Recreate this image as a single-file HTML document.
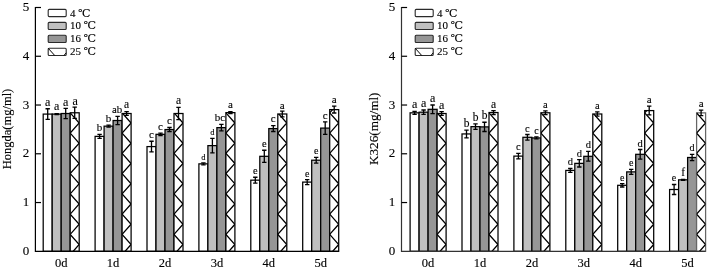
<!DOCTYPE html>
<html lang="en"><head><meta charset="utf-8"><title>Chart</title>
<style>
html,body{margin:0;padding:0;background:#fff;}
body{width:708px;height:271px;overflow:hidden;}
svg{display:block;}
text{font-family:"Liberation Serif","DejaVu Serif",serif;fill:#000;stroke:#000;stroke-width:0.12px;}
.lt{text-anchor:middle;}
.xl{font-size:12.5px;text-anchor:middle;}
.yl{font-size:13px;text-anchor:middle;}
.al{text-anchor:middle;}
.lg{font-size:11px;}
</style></head><body>
<svg width="708" height="271" viewBox="0 0 708 271">
<rect width="708" height="271" fill="#fff"/>
<g class="chart">
<rect x="43.20" y="114.09" width="9.0" height="137.21" fill="#ffffff" stroke="#000" stroke-width="1.25"/>
<path d="M47.70 108.74V119.44M45.50 108.74H49.90M45.50 119.44H49.90" stroke="#000" stroke-width="1.3" fill="none"/>
<text x="47.70" y="105.74" class="lt" font-size="12">a</text>
<rect x="52.20" y="114.09" width="9.0" height="137.21" fill="#c0c0c0" stroke="#000" stroke-width="1.25"/>
<path d="M56.70 113.60V114.58M54.50 113.60H58.90M54.50 114.58H58.90" stroke="#000" stroke-width="1.3" fill="none"/>
<text x="56.70" y="110.00" class="lt" font-size="12">a</text>
<rect x="61.20" y="113.51" width="9.0" height="137.79" fill="#969696" stroke="#000" stroke-width="1.25"/>
<path d="M65.70 108.40V118.62M63.50 108.40H67.90M63.50 118.62H67.90" stroke="#000" stroke-width="1.3" fill="none"/>
<text x="65.70" y="105.90" class="lt" font-size="12">a</text>
<rect x="70.20" y="112.78" width="9.0" height="138.52" fill="#fff" stroke="#000" stroke-width="1.25"/>
<clipPath id="c00"><rect x="70.20" y="112.78" width="9.0" height="138.52"/></clipPath>
<polyline clip-path="url(#c00)" points="70.20,72.32 79.20,82.45 70.20,92.58 79.20,102.71 70.20,112.84 79.20,122.97 70.20,133.10 79.20,143.23 70.20,153.36 79.20,163.49 70.20,173.62 79.20,183.75 70.20,193.88 79.20,204.01 70.20,214.14 79.20,224.27 70.20,234.40 79.20,244.53 70.20,254.66 79.20,264.79" fill="none" stroke="#000" stroke-width="1.3"/>
<path d="M74.70 107.18V118.37M72.50 107.18H76.90M72.50 118.37H76.90" stroke="#000" stroke-width="1.3" fill="none"/>
<text x="75.10" y="105.38" class="lt" font-size="12">a</text>
<text x="61.20" y="267.3" class="xl">0d</text>
<rect x="95.10" y="136.37" width="9.0" height="114.93" fill="#ffffff" stroke="#000" stroke-width="1.25"/>
<path d="M99.60 134.43V138.32M97.40 134.43H101.80M97.40 138.32H101.80" stroke="#000" stroke-width="1.3" fill="none"/>
<text x="99.60" y="131.43" class="lt" font-size="11">b</text>
<rect x="104.10" y="126.16" width="9.0" height="125.14" fill="#c0c0c0" stroke="#000" stroke-width="1.25"/>
<path d="M108.60 125.18V127.13M106.40 125.18H110.80M106.40 127.13H110.80" stroke="#000" stroke-width="1.3" fill="none"/>
<text x="108.60" y="122.18" class="lt" font-size="11">b</text>
<rect x="113.10" y="120.51" width="9.0" height="130.79" fill="#969696" stroke="#000" stroke-width="1.25"/>
<path d="M117.60 116.38V124.65M115.40 116.38H119.80M115.40 124.65H119.80" stroke="#000" stroke-width="1.3" fill="none"/>
<text x="117.10" y="113.38" class="lt" font-size="10.8">ab</text>
<rect x="122.10" y="113.51" width="9.0" height="137.79" fill="#fff" stroke="#000" stroke-width="1.25"/>
<clipPath id="c01"><rect x="122.10" y="113.51" width="9.0" height="137.79"/></clipPath>
<polyline clip-path="url(#c01)" points="122.10,92.58 131.10,102.71 122.10,112.84 131.10,122.97 122.10,133.10 131.10,143.23 122.10,153.36 131.10,163.49 122.10,173.62 131.10,183.75 122.10,193.88 131.10,204.01 122.10,214.14 131.10,224.27 122.10,234.40 131.10,244.53 122.10,254.66 131.10,264.79" fill="none" stroke="#000" stroke-width="1.3"/>
<path d="M126.60 111.56V115.45M124.40 111.56H128.80M124.40 115.45H128.80" stroke="#000" stroke-width="1.3" fill="none"/>
<text x="126.60" y="107.56" class="lt" font-size="11.5">a</text>
<text x="113.10" y="267.3" class="xl">1d</text>
<rect x="147.00" y="146.59" width="9.0" height="104.71" fill="#ffffff" stroke="#000" stroke-width="1.25"/>
<path d="M151.50 141.24V151.94M149.30 141.24H153.70M149.30 151.94H153.70" stroke="#000" stroke-width="1.3" fill="none"/>
<text x="151.50" y="138.24" class="lt" font-size="11">c</text>
<rect x="156.00" y="134.33" width="9.0" height="116.97" fill="#c0c0c0" stroke="#000" stroke-width="1.25"/>
<path d="M160.50 133.11V135.55M158.30 133.11H162.70M158.30 135.55H162.70" stroke="#000" stroke-width="1.3" fill="none"/>
<text x="160.50" y="130.11" class="lt" font-size="11">c</text>
<rect x="165.00" y="129.56" width="9.0" height="121.74" fill="#969696" stroke="#000" stroke-width="1.25"/>
<path d="M169.50 127.52V131.60M167.30 127.52H171.70M167.30 131.60H171.70" stroke="#000" stroke-width="1.3" fill="none"/>
<text x="169.50" y="124.02" class="lt" font-size="11">c</text>
<rect x="174.00" y="113.51" width="9.0" height="137.79" fill="#fff" stroke="#000" stroke-width="1.25"/>
<clipPath id="c02"><rect x="174.00" y="113.51" width="9.0" height="137.79"/></clipPath>
<polyline clip-path="url(#c02)" points="174.00,92.58 183.00,102.71 174.00,112.84 183.00,122.97 174.00,133.10 183.00,143.23 174.00,153.36 183.00,163.49 174.00,173.62 183.00,183.75 174.00,193.88 183.00,204.01 174.00,214.14 183.00,224.27 174.00,234.40 183.00,244.53 174.00,254.66 183.00,264.79" fill="none" stroke="#000" stroke-width="1.3"/>
<path d="M178.50 107.43V119.59M176.30 107.43H180.70M176.30 119.59H180.70" stroke="#000" stroke-width="1.3" fill="none"/>
<text x="178.50" y="104.43" class="lt" font-size="11.5">a</text>
<text x="165.00" y="267.3" class="xl">2d</text>
<rect x="198.90" y="163.86" width="9.0" height="87.44" fill="#ffffff" stroke="#000" stroke-width="1.25"/>
<path d="M203.40 162.89V164.83M201.20 162.89H205.60M201.20 164.83H205.60" stroke="#000" stroke-width="1.3" fill="none"/>
<text x="203.40" y="159.89" class="lt" font-size="8.6">d</text>
<rect x="207.90" y="145.62" width="9.0" height="105.68" fill="#c0c0c0" stroke="#000" stroke-width="1.25"/>
<path d="M212.40 138.32V152.91M210.20 138.32H214.60M210.20 152.91H214.60" stroke="#000" stroke-width="1.3" fill="none"/>
<text x="212.40" y="135.32" class="lt" font-size="8.6">d</text>
<rect x="216.90" y="127.62" width="9.0" height="123.68" fill="#969696" stroke="#000" stroke-width="1.25"/>
<path d="M221.40 124.45V130.78M219.20 124.45H223.60M219.20 130.78H223.60" stroke="#000" stroke-width="1.3" fill="none"/>
<text x="219.90" y="121.45" class="lt" font-size="11">bc</text>
<rect x="225.90" y="112.63" width="9.0" height="138.67" fill="#fff" stroke="#000" stroke-width="1.25"/>
<clipPath id="c03"><rect x="225.90" y="112.63" width="9.0" height="138.67"/></clipPath>
<polyline clip-path="url(#c03)" points="225.90,72.32 234.90,82.45 225.90,92.58 234.90,102.71 225.90,112.84 234.90,122.97 225.90,133.10 234.90,143.23 225.90,153.36 234.90,163.49 225.90,173.62 234.90,183.75 225.90,193.88 234.90,204.01 225.90,214.14 234.90,224.27 225.90,234.40 234.90,244.53 225.90,254.66 234.90,264.79" fill="none" stroke="#000" stroke-width="1.3"/>
<path d="M230.40 111.66V113.60M228.20 111.66H232.60M228.20 113.60H232.60" stroke="#000" stroke-width="1.3" fill="none"/>
<text x="230.40" y="107.66" class="lt" font-size="11">a</text>
<text x="216.90" y="267.3" class="xl">3d</text>
<rect x="250.80" y="180.16" width="9.0" height="71.14" fill="#ffffff" stroke="#000" stroke-width="1.25"/>
<path d="M255.30 177.24V183.08M253.10 177.24H257.50M253.10 183.08H257.50" stroke="#000" stroke-width="1.3" fill="none"/>
<text x="255.30" y="174.24" class="lt" font-size="10.5">e</text>
<rect x="259.80" y="156.32" width="9.0" height="94.98" fill="#c0c0c0" stroke="#000" stroke-width="1.25"/>
<path d="M264.30 150.24V162.40M262.10 150.24H266.50M262.10 162.40H266.50" stroke="#000" stroke-width="1.3" fill="none"/>
<text x="264.30" y="147.24" class="lt" font-size="10.5">e</text>
<rect x="268.80" y="128.59" width="9.0" height="122.71" fill="#969696" stroke="#000" stroke-width="1.25"/>
<path d="M273.30 125.67V131.51M271.10 125.67H275.50M271.10 131.51H275.50" stroke="#000" stroke-width="1.3" fill="none"/>
<text x="273.30" y="121.97" class="lt" font-size="11">c</text>
<rect x="277.80" y="113.99" width="9.0" height="137.31" fill="#fff" stroke="#000" stroke-width="1.25"/>
<clipPath id="c04"><rect x="277.80" y="113.99" width="9.0" height="137.31"/></clipPath>
<polyline clip-path="url(#c04)" points="277.80,92.58 286.80,102.71 277.80,112.84 286.80,122.97 277.80,133.10 286.80,143.23 277.80,153.36 286.80,163.49 277.80,173.62 286.80,183.75 277.80,193.88 286.80,204.01 277.80,214.14 286.80,224.27 277.80,234.40 286.80,244.53 277.80,254.66 286.80,264.79" fill="none" stroke="#000" stroke-width="1.3"/>
<path d="M282.30 111.07V116.91M280.10 111.07H284.50M280.10 116.91H284.50" stroke="#000" stroke-width="1.3" fill="none"/>
<text x="282.30" y="108.77" class="lt" font-size="11">a</text>
<text x="268.80" y="267.3" class="xl">4d</text>
<rect x="302.70" y="182.10" width="9.0" height="69.20" fill="#ffffff" stroke="#000" stroke-width="1.25"/>
<path d="M307.20 179.67V184.54M305.00 179.67H309.40M305.00 184.54H309.40" stroke="#000" stroke-width="1.3" fill="none"/>
<text x="307.20" y="176.67" class="lt" font-size="10">e</text>
<rect x="311.70" y="160.21" width="9.0" height="91.09" fill="#c0c0c0" stroke="#000" stroke-width="1.25"/>
<path d="M316.20 157.29V163.13M314.00 157.29H318.40M314.00 163.13H318.40" stroke="#000" stroke-width="1.3" fill="none"/>
<text x="316.20" y="154.29" class="lt" font-size="10">e</text>
<rect x="320.70" y="128.10" width="9.0" height="123.20" fill="#969696" stroke="#000" stroke-width="1.25"/>
<path d="M325.20 121.78V134.43M323.00 121.78H327.40M323.00 134.43H327.40" stroke="#000" stroke-width="1.3" fill="none"/>
<text x="325.20" y="118.78" class="lt" font-size="11">c</text>
<rect x="329.70" y="109.62" width="9.0" height="141.69" fill="#fff" stroke="#000" stroke-width="1.25"/>
<clipPath id="c05"><rect x="329.70" y="109.62" width="9.0" height="141.69"/></clipPath>
<polyline clip-path="url(#c05)" points="329.70,72.32 338.70,82.45 329.70,92.58 338.70,102.71 329.70,112.84 338.70,122.97 329.70,133.10 338.70,143.23 329.70,153.36 338.70,163.49 329.70,173.62 338.70,183.75 329.70,193.88 338.70,204.01 329.70,214.14 338.70,224.27 329.70,234.40 338.70,244.53 329.70,254.66 338.70,264.79" fill="none" stroke="#000" stroke-width="1.3"/>
<path d="M334.20 106.21V113.02M332.00 106.21H336.40M332.00 113.02H336.40" stroke="#000" stroke-width="1.3" fill="none"/>
<text x="334.20" y="103.21" class="lt" font-size="11">a</text>
<text x="320.70" y="267.3" class="xl">5d</text>
<path d="M35.4 6.90V251.3H338.70" stroke="#000" stroke-width="1.2" fill="none"/>
<text x="25.90" y="254.80" class="yl">0</text>
<path d="M35.4 202.54h5.6" stroke="#000" stroke-width="1.2"/>
<text x="25.90" y="206.04" class="yl">1</text>
<path d="M35.4 153.78h5.6" stroke="#000" stroke-width="1.2"/>
<text x="25.90" y="157.28" class="yl">2</text>
<path d="M35.4 105.02h5.6" stroke="#000" stroke-width="1.2"/>
<text x="25.90" y="108.52" class="yl">3</text>
<path d="M35.4 56.26h5.6" stroke="#000" stroke-width="1.2"/>
<text x="25.90" y="59.76" class="yl">4</text>
<path d="M35.4 7.50h5.6" stroke="#000" stroke-width="1.2"/>
<text x="25.90" y="11.00" class="yl">5</text>
<text transform="translate(10.9 129) rotate(-90)" class="al" font-size="12.5">Hongda(mg/ml)</text>
<rect x="48.20" y="9.40" width="18" height="7.2" fill="#ffffff" stroke="#2a2a2a" stroke-width="1.1" rx="1"/>
<text x="70.00" y="16.50" class="lg">4 ℃</text>
<rect x="48.20" y="22.35" width="18" height="7.2" fill="#c0c0c0" stroke="#2a2a2a" stroke-width="1.1" rx="1"/>
<text x="70.00" y="29.45" class="lg">10 ℃</text>
<rect x="48.20" y="35.30" width="18" height="7.2" fill="#969696" stroke="#2a2a2a" stroke-width="1.1" rx="1"/>
<text x="70.00" y="42.40" class="lg">16 ℃</text>
<rect x="48.20" y="48.25" width="18" height="7.2" fill="#fff" stroke="#2a2a2a" stroke-width="1.1" rx="1"/>
<path d="M48.20 48.25l6.5 7.2M64.00 55.45l2.2 -2.6" stroke="#000" stroke-width="1" fill="none"/>
<text x="70.00" y="55.35" class="lg">25 ℃</text>
</g>
<g class="chart">
<rect x="410.10" y="112.83" width="9.0" height="138.47" fill="#ffffff" stroke="#000" stroke-width="1.25"/>
<path d="M414.60 111.32V114.33M412.40 111.32H416.80M412.40 114.33H416.80" stroke="#000" stroke-width="1.3" fill="none"/>
<text x="414.60" y="108.32" class="lt" font-size="12">a</text>
<rect x="419.10" y="112.19" width="9.0" height="139.11" fill="#c0c0c0" stroke="#000" stroke-width="1.25"/>
<path d="M423.60 110.00V114.38M421.40 110.00H425.80M421.40 114.38H425.80" stroke="#000" stroke-width="1.3" fill="none"/>
<text x="423.60" y="107.00" class="lt" font-size="12">a</text>
<rect x="428.10" y="109.32" width="9.0" height="141.98" fill="#969696" stroke="#000" stroke-width="1.25"/>
<path d="M432.60 104.99V113.65M430.40 104.99H434.80M430.40 113.65H434.80" stroke="#000" stroke-width="1.3" fill="none"/>
<text x="432.60" y="101.99" class="lt" font-size="12">a</text>
<rect x="437.10" y="113.51" width="9.0" height="137.79" fill="#fff" stroke="#000" stroke-width="1.25"/>
<clipPath id="c10"><rect x="437.10" y="113.51" width="9.0" height="137.79"/></clipPath>
<polyline clip-path="url(#c10)" points="437.10,92.58 446.10,102.71 437.10,112.84 446.10,122.97 437.10,133.10 446.10,143.23 437.10,153.36 446.10,163.49 437.10,173.62 446.10,183.75 437.10,193.88 446.10,204.01 437.10,214.14 446.10,224.27 437.10,234.40 446.10,244.53 437.10,254.66 446.10,264.79" fill="none" stroke="#000" stroke-width="1.3"/>
<path d="M441.60 111.56V115.45M439.40 111.56H443.80M439.40 115.45H443.80" stroke="#000" stroke-width="1.3" fill="none"/>
<text x="441.60" y="108.56" class="lt" font-size="12">a</text>
<text x="428.10" y="267.3" class="xl">0d</text>
<rect x="462.00" y="133.94" width="9.0" height="117.36" fill="#ffffff" stroke="#000" stroke-width="1.25"/>
<path d="M466.50 130.05V137.83M464.30 130.05H468.70M464.30 137.83H468.70" stroke="#000" stroke-width="1.3" fill="none"/>
<text x="466.50" y="127.05" class="lt" font-size="11.5">b</text>
<rect x="471.00" y="126.64" width="9.0" height="124.66" fill="#c0c0c0" stroke="#000" stroke-width="1.25"/>
<path d="M475.50 123.97V129.32M473.30 123.97H477.70M473.30 129.32H477.70" stroke="#000" stroke-width="1.3" fill="none"/>
<text x="475.50" y="120.97" class="lt" font-size="11.5">b</text>
<rect x="480.00" y="126.89" width="9.0" height="124.41" fill="#969696" stroke="#000" stroke-width="1.25"/>
<path d="M484.50 122.26V131.51M482.30 122.26H486.70M482.30 131.51H486.70" stroke="#000" stroke-width="1.3" fill="none"/>
<text x="484.50" y="119.26" class="lt" font-size="11.5">b</text>
<rect x="489.00" y="112.53" width="9.0" height="138.77" fill="#fff" stroke="#000" stroke-width="1.25"/>
<clipPath id="c11"><rect x="489.00" y="112.53" width="9.0" height="138.77"/></clipPath>
<polyline clip-path="url(#c11)" points="489.00,72.32 498.00,82.45 489.00,92.58 498.00,102.71 489.00,112.84 498.00,122.97 489.00,133.10 498.00,143.23 489.00,153.36 498.00,163.49 489.00,173.62 498.00,183.75 489.00,193.88 498.00,204.01 489.00,214.14 498.00,224.27 489.00,234.40 498.00,244.53 489.00,254.66 498.00,264.79" fill="none" stroke="#000" stroke-width="1.3"/>
<path d="M493.50 110.59V114.48M491.30 110.59H495.70M491.30 114.48H495.70" stroke="#000" stroke-width="1.3" fill="none"/>
<text x="493.50" y="107.59" class="lt" font-size="11.5">a</text>
<text x="480.00" y="267.3" class="xl">1d</text>
<rect x="513.90" y="156.12" width="9.0" height="95.18" fill="#ffffff" stroke="#000" stroke-width="1.25"/>
<path d="M518.40 153.40V158.85M516.20 153.40H520.60M516.20 158.85H520.60" stroke="#000" stroke-width="1.3" fill="none"/>
<text x="518.40" y="150.40" class="lt" font-size="10.5">c</text>
<rect x="522.90" y="137.30" width="9.0" height="114.00" fill="#c0c0c0" stroke="#000" stroke-width="1.25"/>
<path d="M527.40 134.52V140.07M525.20 134.52H529.60M525.20 140.07H529.60" stroke="#000" stroke-width="1.3" fill="none"/>
<text x="527.40" y="131.52" class="lt" font-size="10.5">c</text>
<rect x="531.90" y="137.93" width="9.0" height="113.37" fill="#969696" stroke="#000" stroke-width="1.25"/>
<path d="M536.40 136.96V138.90M534.20 136.96H538.60M534.20 138.90H538.60" stroke="#000" stroke-width="1.3" fill="none"/>
<text x="536.40" y="133.96" class="lt" font-size="10">c</text>
<rect x="540.90" y="112.78" width="9.0" height="138.52" fill="#fff" stroke="#000" stroke-width="1.25"/>
<clipPath id="c12"><rect x="540.90" y="112.78" width="9.0" height="138.52"/></clipPath>
<polyline clip-path="url(#c12)" points="540.90,72.32 549.90,82.45 540.90,92.58 549.90,102.71 540.90,112.84 549.90,122.97 540.90,133.10 549.90,143.23 540.90,153.36 549.90,163.49 540.90,173.62 549.90,183.75 540.90,193.88 549.90,204.01 540.90,214.14 549.90,224.27 540.90,234.40 549.90,244.53 540.90,254.66 549.90,264.79" fill="none" stroke="#000" stroke-width="1.3"/>
<path d="M545.40 110.83V114.72M543.20 110.83H547.60M543.20 114.72H547.60" stroke="#000" stroke-width="1.3" fill="none"/>
<text x="545.40" y="107.83" class="lt" font-size="10.5">a</text>
<text x="531.90" y="267.3" class="xl">2d</text>
<rect x="565.80" y="170.43" width="9.0" height="80.87" fill="#ffffff" stroke="#000" stroke-width="1.25"/>
<path d="M570.30 168.48V172.37M568.10 168.48H572.50M568.10 172.37H572.50" stroke="#000" stroke-width="1.3" fill="none"/>
<text x="570.30" y="165.48" class="lt" font-size="10.5">d</text>
<rect x="574.80" y="163.37" width="9.0" height="87.93" fill="#c0c0c0" stroke="#000" stroke-width="1.25"/>
<path d="M579.30 159.72V167.02M577.10 159.72H581.50M577.10 167.02H581.50" stroke="#000" stroke-width="1.3" fill="none"/>
<text x="579.30" y="156.72" class="lt" font-size="10.5">d</text>
<rect x="583.80" y="156.32" width="9.0" height="94.98" fill="#969696" stroke="#000" stroke-width="1.25"/>
<path d="M588.30 151.45V161.18M586.10 151.45H590.50M586.10 161.18H590.50" stroke="#000" stroke-width="1.3" fill="none"/>
<text x="588.30" y="147.65" class="lt" font-size="10.5">d</text>
<rect x="592.80" y="113.99" width="9.0" height="137.31" fill="#fff" stroke="#000" stroke-width="1.25"/>
<clipPath id="c13"><rect x="592.80" y="113.99" width="9.0" height="137.31"/></clipPath>
<polyline clip-path="url(#c13)" points="592.80,92.58 601.80,102.71 592.80,112.84 601.80,122.97 592.80,133.10 601.80,143.23 592.80,153.36 601.80,163.49 592.80,173.62 601.80,183.75 592.80,193.88 601.80,204.01 592.80,214.14 601.80,224.27 592.80,234.40 601.80,244.53 592.80,254.66 601.80,264.79" fill="none" stroke="#000" stroke-width="1.3"/>
<path d="M597.30 111.80V116.18M595.10 111.80H599.50M595.10 116.18H599.50" stroke="#000" stroke-width="1.3" fill="none"/>
<text x="597.30" y="108.80" class="lt" font-size="10.5">a</text>
<text x="583.80" y="267.3" class="xl">3d</text>
<rect x="617.70" y="185.31" width="9.0" height="65.99" fill="#ffffff" stroke="#000" stroke-width="1.25"/>
<path d="M622.20 183.61V187.02M620.00 183.61H624.40M620.00 187.02H624.40" stroke="#000" stroke-width="1.3" fill="none"/>
<text x="622.20" y="180.61" class="lt" font-size="10">e</text>
<rect x="626.70" y="171.89" width="9.0" height="79.41" fill="#c0c0c0" stroke="#000" stroke-width="1.25"/>
<path d="M631.20 169.31V174.47M629.00 169.31H633.40M629.00 174.47H633.40" stroke="#000" stroke-width="1.3" fill="none"/>
<text x="631.20" y="166.31" class="lt" font-size="10">e</text>
<rect x="635.70" y="154.32" width="9.0" height="96.98" fill="#969696" stroke="#000" stroke-width="1.25"/>
<path d="M640.20 149.51V159.14M638.00 149.51H642.40M638.00 159.14H642.40" stroke="#000" stroke-width="1.3" fill="none"/>
<text x="640.20" y="146.51" class="lt" font-size="10.5">d</text>
<rect x="644.70" y="110.59" width="9.0" height="140.71" fill="#fff" stroke="#000" stroke-width="1.25"/>
<clipPath id="c14"><rect x="644.70" y="110.59" width="9.0" height="140.71"/></clipPath>
<polyline clip-path="url(#c14)" points="644.70,72.32 653.70,82.45 644.70,92.58 653.70,102.71 644.70,112.84 653.70,122.97 644.70,133.10 653.70,143.23 644.70,153.36 653.70,163.49 644.70,173.62 653.70,183.75 644.70,193.88 653.70,204.01 644.70,214.14 653.70,224.27 644.70,234.40 653.70,244.53 644.70,254.66 653.70,264.79" fill="none" stroke="#000" stroke-width="1.3"/>
<path d="M649.20 106.21V114.97M647.00 106.21H651.40M647.00 114.97H651.40" stroke="#000" stroke-width="1.3" fill="none"/>
<text x="649.20" y="103.21" class="lt" font-size="11">a</text>
<text x="635.70" y="267.3" class="xl">4d</text>
<rect x="669.60" y="189.50" width="9.0" height="61.80" fill="#ffffff" stroke="#000" stroke-width="1.25"/>
<path d="M674.10 184.49V194.51M671.90 184.49H676.30M671.90 194.51H676.30" stroke="#000" stroke-width="1.3" fill="none"/>
<text x="674.10" y="181.49" class="lt" font-size="10">e</text>
<rect x="678.60" y="179.82" width="9.0" height="71.48" fill="#c0c0c0" stroke="#000" stroke-width="1.25"/>
<path d="M683.10 179.33V180.30M680.90 179.33H685.30M680.90 180.30H685.30" stroke="#000" stroke-width="1.3" fill="none"/>
<text x="683.10" y="176.33" class="lt" font-size="11.5">f</text>
<rect x="687.60" y="157.49" width="9.0" height="93.81" fill="#969696" stroke="#000" stroke-width="1.25"/>
<path d="M692.10 154.28V160.70M689.90 154.28H694.30M689.90 160.70H694.30" stroke="#000" stroke-width="1.3" fill="none"/>
<text x="692.10" y="151.28" class="lt" font-size="10">d</text>
<rect x="696.60" y="112.87" width="9.0" height="138.43" fill="#fff" stroke="#666" stroke-width="1.25"/>
<clipPath id="c15"><rect x="696.60" y="112.87" width="9.0" height="138.43"/></clipPath>
<polyline clip-path="url(#c15)" points="696.60,92.58 705.60,102.71 696.60,112.84 705.60,122.97 696.60,133.10 705.60,143.23 696.60,153.36 705.60,163.49 696.60,173.62 705.60,183.75 696.60,193.88 705.60,204.01 696.60,214.14 705.60,224.27 696.60,234.40 705.60,244.53 696.60,254.66 705.60,264.79" fill="none" stroke="#000" stroke-width="1.3"/>
<path d="M701.10 110.20V115.55M698.90 110.20H703.30M698.90 115.55H703.30" stroke="#000" stroke-width="1.3" fill="none"/>
<text x="701.10" y="107.20" class="lt" font-size="11">a</text>
<text x="687.60" y="267.3" class="xl">5d</text>
<path d="M401.5 6.90V251.3H705.60" stroke="#333" stroke-width="1.2" fill="none"/>
<text x="392.00" y="254.80" class="yl">0</text>
<path d="M401.5 202.54h5.6" stroke="#000" stroke-width="1.2"/>
<text x="392.00" y="206.04" class="yl">1</text>
<path d="M401.5 153.78h5.6" stroke="#000" stroke-width="1.2"/>
<text x="392.00" y="157.28" class="yl">2</text>
<path d="M401.5 105.02h5.6" stroke="#000" stroke-width="1.2"/>
<text x="392.00" y="108.52" class="yl">3</text>
<path d="M401.5 56.26h5.6" stroke="#000" stroke-width="1.2"/>
<text x="392.00" y="59.76" class="yl">4</text>
<path d="M401.5 7.50h5.6" stroke="#000" stroke-width="1.2"/>
<text x="392.00" y="11.00" class="yl">5</text>
<text transform="translate(378.2 128.8) rotate(-90)" class="al" font-size="13.2">K326(mg/ml)</text>
<rect x="415.20" y="9.40" width="18" height="7.2" fill="#ffffff" stroke="#2a2a2a" stroke-width="1.1" rx="1"/>
<text x="437.00" y="16.50" class="lg">4 ℃</text>
<rect x="415.20" y="22.35" width="18" height="7.2" fill="#c0c0c0" stroke="#2a2a2a" stroke-width="1.1" rx="1"/>
<text x="437.00" y="29.45" class="lg">10 ℃</text>
<rect x="415.20" y="35.30" width="18" height="7.2" fill="#969696" stroke="#2a2a2a" stroke-width="1.1" rx="1"/>
<text x="437.00" y="42.40" class="lg">16 ℃</text>
<rect x="415.20" y="48.25" width="18" height="7.2" fill="#fff" stroke="#2a2a2a" stroke-width="1.1" rx="1"/>
<path d="M415.20 48.25l6.5 7.2M431.00 55.45l2.2 -2.6" stroke="#000" stroke-width="1" fill="none"/>
<text x="437.00" y="55.35" class="lg">25 ℃</text>
</g>
</svg>
</body></html>
